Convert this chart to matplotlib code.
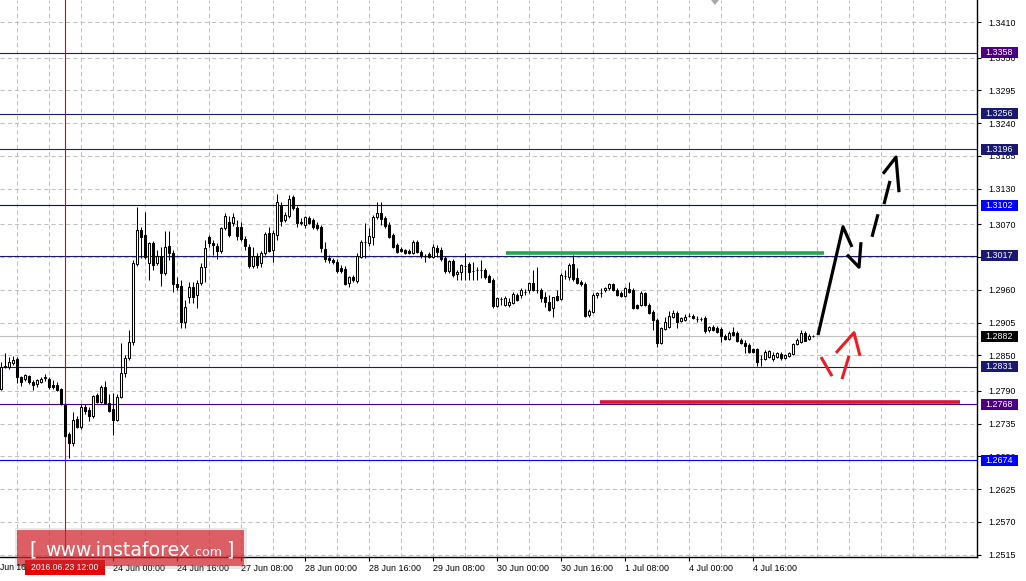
import numpy as np
import matplotlib
matplotlib.use("Agg")
import matplotlib.pyplot as plt
import matplotlib.transforms as mtransforms
from matplotlib.patches import Rectangle, Polygon

plt.rcParams['font.family'] = ['Liberation Sans', 'DejaVu Sans']

# H1 candles, bar 0 = 22 Jun 20:00 ... bar 203 = 5 Jul 07:00
opens = [
    1.2794, 1.2830, 1.2830, 1.2837, 1.2844, 1.2814, 1.2810, 1.2815, 1.2805, 1.2802,
    1.2805, 1.2812, 1.2810, 1.2800, 1.2800, 1.2794, 1.2767, 1.2718, 1.2703, 1.2743,
    1.2730, 1.2763, 1.2758, 1.2748, 1.2783, 1.2772, 1.2797, 1.2770, 1.2760, 1.2741,
    1.2780, 1.2820, 1.2846, 1.2872, 1.3003, 1.3061, 1.3052, 1.3005, 1.3039, 1.3005,
    1.3017, 1.2988, 1.3034, 1.3022, 1.2970, 1.2967, 1.2906, 1.2948, 1.2965, 1.2951,
    1.2972, 1.2998, 1.3049, 1.3039, 1.3034, 1.3025, 1.3064, 1.3074, 1.3072, 1.3066,
    1.3066, 1.3045, 1.3032, 1.3000, 1.3017, 1.3005, 1.3022, 1.3056, 1.3027, 1.3052,
    1.3101, 1.3077, 1.3084, 1.3116, 1.3098, 1.3072, 1.3069, 1.3081, 1.3077, 1.3069,
    1.3066, 1.3029, 1.3014, 1.3010, 1.3007, 1.2997, 1.2995, 1.2972, 1.2982, 1.2975,
    1.3015, 1.3040, 1.3039, 1.3049, 1.3082, 1.3089, 1.3081, 1.3069, 1.3052, 1.3035,
    1.3029, 1.3027, 1.3025, 1.3022, 1.3040, 1.3024, 1.3017, 1.3020, 1.3015, 1.3030,
    1.3027, 1.3014, 1.2992, 1.3009, 1.2987, 1.2990, 1.3000, 1.3003, 1.2992, 1.2993,
    1.2993, 1.2993, 1.2983, 1.2977, 1.2933, 1.2945, 1.2935, 1.2935, 1.2938, 1.2951,
    1.2951, 1.2956, 1.2960, 1.2972, 1.2960, 1.2960, 1.2948, 1.2940, 1.2930, 1.2950,
    1.2945, 1.2983, 1.2982, 1.3003, 1.2980, 1.2973, 1.2970, 1.2918, 1.2923, 1.2951,
    1.2955, 1.2960, 1.2963, 1.2970, 1.2960, 1.2955, 1.2950, 1.2961, 1.2960, 1.2935,
    1.2935, 1.2955, 1.2935, 1.2923, 1.2909, 1.2871, 1.2894, 1.2898, 1.2914, 1.2921,
    1.2908, 1.2909, 1.2916, 1.2916, 1.2911, 1.2911, 1.2913, 1.2893, 1.2898, 1.2896,
    1.2894, 1.2882, 1.2877, 1.2889, 1.2888, 1.2876, 1.2871, 1.2867, 1.2861, 1.2861,
    1.2844, 1.2844, 1.2847, 1.2844, 1.2847, 1.2852, 1.2846, 1.2849, 1.2852, 1.2869,
    1.2872, 1.2888, 1.2877, 1.2882]
highs = [
    1.2839, 1.2854, 1.2847, 1.2849, 1.2847, 1.2815, 1.2819, 1.2817, 1.2809, 1.2810,
    1.2814, 1.2819, 1.2814, 1.2809, 1.2805, 1.2795, 1.2768, 1.2721, 1.2755, 1.2748,
    1.2768, 1.2768, 1.2763, 1.2783, 1.2787, 1.2800, 1.2807, 1.2785, 1.2787, 1.2785,
    1.2871, 1.2851, 1.2893, 1.3010, 1.3099, 1.3066, 1.3091, 1.3040, 1.3042, 1.3027,
    1.3032, 1.3059, 1.3059, 1.3027, 1.2982, 1.2977, 1.2943, 1.2973, 1.2973, 1.2977,
    1.3005, 1.3044, 1.3052, 1.3044, 1.3039, 1.3066, 1.3089, 1.3084, 1.3089, 1.3077,
    1.3074, 1.3051, 1.3037, 1.3032, 1.3022, 1.3025, 1.3057, 1.3066, 1.3061, 1.3121,
    1.3108, 1.3091, 1.3119, 1.3119, 1.3101, 1.3081, 1.3084, 1.3084, 1.3081, 1.3074,
    1.3069, 1.3040, 1.3019, 1.3014, 1.3012, 1.3002, 1.3000, 1.2983, 1.2985, 1.3022,
    1.3044, 1.3072, 1.3064, 1.3086, 1.3108, 1.3108, 1.3084, 1.3074, 1.3056, 1.3039,
    1.3032, 1.3029, 1.3029, 1.3044, 1.3044, 1.3027, 1.3020, 1.3024, 1.3037, 1.3035,
    1.3032, 1.3017, 1.3010, 1.3012, 1.2993, 1.3003, 1.3022, 1.3007, 1.3007, 1.2998,
    1.3010, 1.2997, 1.2987, 1.2980, 1.2948, 1.2948, 1.2950, 1.2946, 1.2956, 1.2955,
    1.2963, 1.2961, 1.2973, 1.2993, 1.2998, 1.2963, 1.2956, 1.2951, 1.2948, 1.2960,
    1.2988, 1.2993, 1.3005, 1.3019, 1.2997, 1.2977, 1.2973, 1.2928, 1.2955, 1.2956,
    1.2963, 1.2965, 1.2972, 1.2972, 1.2963, 1.2958, 1.2965, 1.2973, 1.2963, 1.2936,
    1.2958, 1.2956, 1.2938, 1.2926, 1.2913, 1.2898, 1.2914, 1.2925, 1.2926, 1.2925,
    1.2914, 1.2920, 1.2921, 1.2920, 1.2916, 1.2914, 1.2916, 1.2899, 1.2901, 1.2899,
    1.2898, 1.2886, 1.2891, 1.2898, 1.2891, 1.2879, 1.2876, 1.2871, 1.2862, 1.2862,
    1.2851, 1.2859, 1.2859, 1.2856, 1.2856, 1.2856, 1.2852, 1.2856, 1.2871, 1.2879,
    1.2893, 1.2891, 1.2886, 1.2884]
lows = [
    1.2792, 1.2829, 1.2827, 1.2834, 1.2804, 1.2799, 1.2807, 1.2802, 1.2792, 1.2797,
    1.2804, 1.2807, 1.2794, 1.2794, 1.2790, 1.2767, 1.2713, 1.2678, 1.2698, 1.2728,
    1.2726, 1.2751, 1.2740, 1.2745, 1.2770, 1.2770, 1.2768, 1.2755, 1.2716, 1.2740,
    1.2778, 1.2814, 1.2842, 1.2867, 1.3000, 1.3014, 1.3012, 1.2977, 1.2993, 1.3002,
    1.2967, 1.2985, 1.3010, 1.2956, 1.2960, 1.2896, 1.2896, 1.2938, 1.2938, 1.2930,
    1.2968, 1.2973, 1.3032, 1.3019, 1.3012, 1.3022, 1.3061, 1.3049, 1.3067, 1.3044,
    1.3042, 1.3027, 1.2997, 1.2997, 1.2997, 1.2998, 1.3019, 1.3024, 1.3007, 1.3044,
    1.3067, 1.3074, 1.3081, 1.3094, 1.3066, 1.3069, 1.3064, 1.3071, 1.3062, 1.3061,
    1.3024, 1.3007, 1.3005, 1.3004, 1.2988, 1.2988, 1.2968, 1.2965, 1.2973, 1.2972,
    1.3014, 1.3014, 1.3034, 1.3035, 1.3079, 1.3069, 1.3064, 1.3047, 1.3030, 1.3022,
    1.3024, 1.3020, 1.3020, 1.3020, 1.3022, 1.3014, 1.3007, 1.3014, 1.3014, 1.3015,
    1.3009, 1.2988, 1.2988, 1.2982, 1.2977, 1.2977, 1.2977, 1.2977, 1.2977, 1.2977,
    1.2980, 1.2978, 1.2973, 1.2930, 1.2931, 1.2935, 1.2933, 1.2931, 1.2936, 1.2941,
    1.2946, 1.2951, 1.2955, 1.2958, 1.2955, 1.2940, 1.2931, 1.2925, 1.2914, 1.2941,
    1.2943, 1.2978, 1.2977, 1.2975, 1.2970, 1.2967, 1.2914, 1.2914, 1.2921, 1.2946,
    1.2948, 1.2956, 1.2960, 1.2958, 1.2950, 1.2948, 1.2948, 1.2955, 1.2928, 1.2928,
    1.2933, 1.2933, 1.2920, 1.2893, 1.2864, 1.2869, 1.2893, 1.2896, 1.2913, 1.2896,
    1.2906, 1.2908, 1.2914, 1.2911, 1.2906, 1.2908, 1.2888, 1.2889, 1.2891, 1.2888,
    1.2872, 1.2876, 1.2876, 1.2882, 1.2872, 1.2869, 1.2854, 1.2854, 1.2854, 1.2832,
    1.2832, 1.2842, 1.2846, 1.2841, 1.2846, 1.2842, 1.2844, 1.2847, 1.2851, 1.2867,
    1.2871, 1.2874, 1.2876, 1.2880]
closes = [
    1.2830, 1.2832, 1.2839, 1.2842, 1.2814, 1.2805, 1.2817, 1.2805, 1.2800, 1.2809,
    1.2810, 1.2814, 1.2797, 1.2797, 1.2792, 1.2768, 1.2715, 1.2703, 1.2741, 1.2730,
    1.2763, 1.2757, 1.2748, 1.2782, 1.2772, 1.2797, 1.2770, 1.2757, 1.2741, 1.2780,
    1.2820, 1.2846, 1.2872, 1.3005, 1.3061, 1.3049, 1.3015, 1.3039, 1.3002, 1.3017,
    1.2988, 1.3032, 1.3022, 1.2970, 1.2965, 1.2906, 1.2931, 1.2965, 1.2948, 1.2972,
    1.2998, 1.3030, 1.3039, 1.3035, 1.3025, 1.3064, 1.3084, 1.3052, 1.3082, 1.3051,
    1.3045, 1.3034, 1.3000, 1.3017, 1.3002, 1.3022, 1.3054, 1.3025, 1.3056, 1.3108,
    1.3076, 1.3086, 1.3113, 1.3098, 1.3072, 1.3074, 1.3082, 1.3072, 1.3066, 1.3064,
    1.3030, 1.3012, 1.3010, 1.3007, 1.2992, 1.2992, 1.2970, 1.2982, 1.2977, 1.3017,
    1.3040, 1.3040, 1.3051, 1.3082, 1.3089, 1.3079, 1.3067, 1.3049, 1.3032, 1.3024,
    1.3025, 1.3022, 1.3022, 1.3040, 1.3024, 1.3017, 1.3017, 1.3015, 1.3032, 1.3024,
    1.3012, 1.2992, 1.3009, 1.2985, 1.2990, 1.3002, 1.3000, 1.2990, 1.2992, 1.2993,
    1.2993, 1.2982, 1.2973, 1.2933, 1.2946, 1.2945, 1.2946, 1.2940, 1.2953, 1.2943,
    1.2960, 1.2956, 1.2972, 1.2960, 1.2960, 1.2946, 1.2940, 1.2926, 1.2948, 1.2943,
    1.2985, 1.2983, 1.3002, 1.2978, 1.2972, 1.2970, 1.2916, 1.2925, 1.2951, 1.2955,
    1.2955, 1.2963, 1.2970, 1.2960, 1.2951, 1.2950, 1.2963, 1.2956, 1.2930, 1.2930,
    1.2955, 1.2935, 1.2921, 1.2909, 1.2871, 1.2896, 1.2906, 1.2916, 1.2921, 1.2906,
    1.2913, 1.2914, 1.2916, 1.2913, 1.2911, 1.2911, 1.2891, 1.2898, 1.2893, 1.2889,
    1.2882, 1.2877, 1.2888, 1.2884, 1.2874, 1.2871, 1.2866, 1.2856, 1.2856, 1.2839,
    1.2844, 1.2856, 1.2857, 1.2851, 1.2854, 1.2846, 1.2851, 1.2854, 1.2869, 1.2876,
    1.2888, 1.2874, 1.2882, 1.2882]

# horizontal levels
level_prices = [1.3358, 1.3256, 1.3196, 1.3102, 1.3017, 1.2831, 1.2768, 1.2674]
level_line_colors = ['#4b0082', '#191970', '#1c1c9a', '#0000cd', '#191970', '#191970', '#4b0082', '#0000ff']
level_box_colors = ['#4b0082', '#191970', '#191970', '#0000ff', '#191970', '#191970', '#4b0082', '#0000ff']
bid_price = 1.2882

price_ticks = [1.3410, 1.3350, 1.3295, 1.3240, 1.3185, 1.3130, 1.3070, 1.3015, 1.2960,
               1.2905, 1.2850, 1.2790, 1.2735, 1.2680, 1.2625, 1.2570, 1.2515]
hidden_tick = 1.3015   # fully covered by the 1.3017 box in the original
time_ticks = [28, 44, 60, 76, 92, 108, 124, 140, 156, 172, 188]
time_labels = ['24 Jun 00:00', '24 Jun 16:00', '27 Jun 08:00', '28 Jun 00:00', '28 Jun 16:00',
               '29 Jun 08:00', '30 Jun 00:00', '30 Jun 16:00', '1 Jul 08:00', '4 Jul 00:00', '4 Jul 16:00']
cross_bar = 16
cross_label = '2016.06.23 12:00'

# drawn annotations (bar index, price)
green_seg = ([126.25, 205.75], [1.3022, 1.3022])
red_seg = ([149.75, 239.75], [1.2772, 1.2772])
black_paths = [
    ([204.25, 210.5, 212.75], [1.2884, 1.3066, 1.3032]),
    ([211.5, 214.5, 215.0], [1.3019, 1.2998, 1.3040]),
    ([217.75, 219.25], [1.3049, 1.3087]),
    ([220.75, 222.25], [1.3104, 1.3143]),
    ([220.5, 223.75, 224.5], [1.3155, 1.3183, 1.3124]),
]
red_paths = [
    ([205.0, 207.75], [1.2847, 1.2815]),
    ([210.25, 212.0], [1.2810, 1.2849]),
    ([208.75, 213.25, 214.75], [1.2854, 1.2888, 1.2849]),
]

W, H = 1026, 581
fig = plt.figure(figsize=(W / 100, H / 100), dpi=100)
ax = fig.add_axes([0, 24 / H, 977 / W, 557 / H])
ax.set_xlim(-0.25, 244)
ax.set_ylim(1.2511, 1.3447)

# grid
for p in price_ticks:
    ax.axhline(p, color='#c0c0c0', lw=0.75, ls=(0, (4, 3)), zorder=0)
for g in range(4, 245, 8):
    ax.axvline(g, color='#c0c0c0', lw=0.75, ls=(0, (4, 3)), zorder=0)

for p, c in zip(level_prices, level_line_colors):
    ax.axhline(p, color=c, lw=0.8, zorder=1)
ax.axhline(bid_price, color='#c0c0c0', lw=0.8, zorder=1)
ax.axvline(cross_bar, color='#e00000', lw=0.8, zorder=2)

# candles
idx = np.arange(len(closes))
o = np.array(opens)
c = np.array(closes)
ax.vlines(idx, lows, highs, color='black', lw=0.75, zorder=3)
up = c >= o
ax.bar(idx[up], c[up] - o[up], bottom=o[up], width=0.72, facecolor='white',
       edgecolor='black', lw=0.75, zorder=4)
ax.bar(idx[~up], o[~up] - c[~up], bottom=c[~up], width=0.72, facecolor='black',
       edgecolor='black', lw=0.75, zorder=4)

# annotations
ax.plot(*green_seg, color='#22aa4a', lw=2.6, solid_capstyle='butt', zorder=5)
ax.plot(*red_seg, color='#dc143c', lw=2.6, solid_capstyle='butt', zorder=5)
for xs, ys in black_paths:
    ax.plot(xs, ys, color='black', lw=2.3, solid_capstyle='butt', zorder=6)
for xs, ys in red_paths:
    ax.plot(xs, ys, color='#ee1c25', lw=2.2, solid_capstyle='butt', zorder=6)

# axes look
for s in ['top', 'left']:
    ax.spines[s].set_visible(False)
for s in ['right', 'bottom']:
    ax.spines[s].set_color('black')
    ax.spines[s].set_linewidth(1)
ax.yaxis.tick_right()
ax.set_yticks(price_ticks)
ax.set_yticklabels(['' if p == hidden_tick else '%.4f' % p for p in price_ticks])
ax.tick_params(axis='y', direction='out', length=3, width=0.8, pad=5, labelsize=6.4, colors='black')
ax.set_xticks(time_ticks)
ax.set_xticklabels(time_labels)
for lab in ax.get_xticklabels():
    lab.set_ha('left')
ax.tick_params(axis='x', direction='out', length=3, width=0.8, pad=2, labelsize=6.4)

# price label boxes
tr = mtransforms.blended_transform_factory(fig.transFigure, ax.transData)
bh = 11 * (1.3447 - 1.2511) / 557
for p, col in zip(level_prices + [bid_price], level_box_colors + ['black']):
    ax.add_patch(Rectangle((981 / W, p - bh / 2), 37 / W, bh, transform=tr, facecolor=col,
                           edgecolor='none', clip_on=False, zorder=10))
    ax.text(999.5 / W, p, '%.4f' % p, transform=tr, color='white', ha='center', va='center',
            fontsize=6.4, clip_on=False, zorder=11)

# small chart-shift marker at top
fig.patches.append(Polygon([[711 / W, 1], [719 / W, 1], [715 / W, 1 - 5 / H]], closed=True,
                           transform=fig.transFigure, facecolor='#a8a8a8', edgecolor='none'))

# time axis leftovers and crosshair label
fig.text(0, 1 - 567 / H, 'Jun 16', ha='left', va='center', fontsize=6.2)
fig.patches.append(Rectangle((25 / W, 1 - 575 / H), 80 / W, 15 / H, transform=fig.transFigure,
                             facecolor='#e60000', edgecolor='none'))
fig.text(65 / W, 1 - 567.5 / H, cross_label, ha='center', va='center', fontsize=6.2, color='white')

# watermark
fig.patches.append(Rectangle((15 / W, 1 - 569 / H), 232 / W, 41 / H, transform=fig.transFigure,
                             facecolor='#808080', edgecolor='none', alpha=0.18))
fig.patches.append(Rectangle((17 / W, 1 - 566 / H), 227 / W, 36 / H, transform=fig.transFigure,
                             facecolor='#d71e28', edgecolor='none', alpha=0.68))
wm_y = 1 - 556 / H
fig.text(29 / W, wm_y, '[', ha='left', va='baseline', fontsize=13.6, color='white', family='DejaVu Sans')
fig.text(45 / W, wm_y, 'www.instaforex', ha='left', va='baseline', fontsize=13.6, color='white',
         family='DejaVu Sans')
fig.text(192 / W, wm_y, '.com', ha='left', va='baseline', fontsize=9.1, color='white', family='DejaVu Sans')
fig.text(226 / W, wm_y, ']', ha='left', va='baseline', fontsize=13.6, color='white', family='DejaVu Sans')

fig.savefig('out.png', dpi=100, facecolor='white')
